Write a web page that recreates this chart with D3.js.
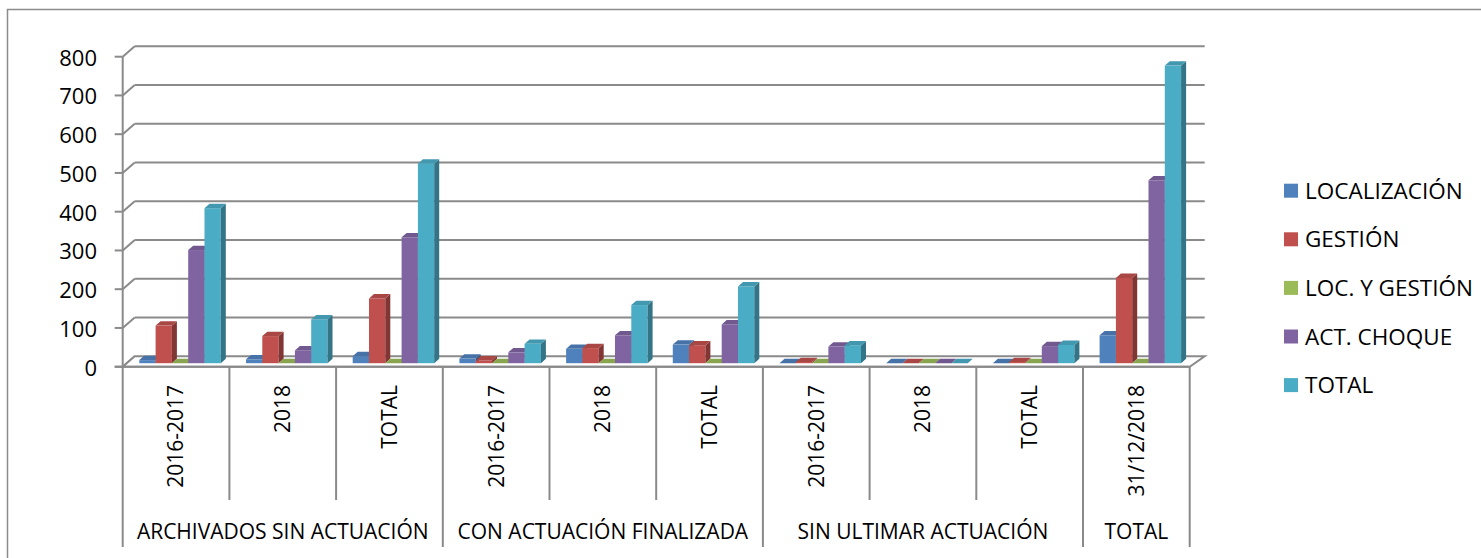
<!DOCTYPE html>
<html><head><meta charset="utf-8">
<script src="https://cdn.jsdelivr.net/npm/d3@7"></script>
<style>html,body{margin:0;padding:0;background:#fff;}svg{display:block;font-family:"Open Sans",sans-serif;}</style>
</head><body><svg id="c" width="1481" height="558"></svg>
<script>
const categories = ["2016-2017","2018","TOTAL","2016-2017","2018","TOTAL","2016-2017","2018","TOTAL","31/12/2018"];
const groupLabels = ["ARCHIVADOS SIN ACTUACIÓN","CON ACTUACIÓN FINALIZADA","SIN ULTIMAR ACTUACIÓN","TOTAL"];
const groupSizes = [3,3,3,1];
const seriesNames = ["LOCALIZACIÓN","GESTIÓN","LOC. Y GESTIÓN","ACT. CHOQUE","TOTAL"];
const localizacion = [8,10,18,12,37,48,0,0,0,72];
const gestion      = [97,70,167,7,39,46,3,0,3,220];
const locYGestion  = [0,0,0,0,0,0,0,0,0,0];
const actChoque    = [292,33,325,28,72,100,43,0,44,472];
const totalSerie   = [400,113,515,50,150,198,46,0,47,768];
const yTicks = [0,100,200,300,400,500,600,700,800];
const colors = ["#4F81BD","#C0504D","#9BBB59","#8064A2","#4BACC6"];

const series = [localizacion,gestion,locYGestion,actChoque,totalSerie];
const svg = d3.select("#c");
const grid = "#8a8a8a";

const x0 = 122.7, x1 = 1189.7;
const y = d3.scaleLinear().domain([0,800]).range([366.7,56.7]);
const x = d3.scaleBand().domain(d3.range(categories.length)).range([x0,x1]).padding(0);
const cw = x.bandwidth();
const inner = d3.scaleBand().domain(d3.range(series.length)).range([12.6, cw-12.6]).padding(0);
const DX = 12, DY = 10.5;
const bF = 1/3, bB = 0.75;

svg.append("rect").attr("x",7.5).attr("y",9.5).attr("width",1490).attr("height",600)
  .attr("fill","none").attr("stroke","#8c8c8c").attr("stroke-width",1.5);

svg.append("g").selectAll("line").data(yTicks.slice(1)).join("line")
  .attr("x1",x0+DX).attr("x2",x1+DX+3).attr("y1",d=>y(d)-DY).attr("y2",d=>y(d)-DY)
  .attr("stroke",grid).attr("stroke-width",2);
svg.append("g").selectAll("line").data(yTicks).join("line")
  .attr("x1",x0).attr("x2",x0+DX).attr("y1",d=>y(d)).attr("y2",d=>y(d)-DY)
  .attr("stroke",grid).attr("stroke-width",2);
svg.append("polygon")
  .attr("points",[[x0,y(0)],[x1,y(0)],[x1+DX+3,y(0)-DY],[x0+DX,y(0)-DY]].map(p=>p.join(",")).join(" "))
  .attr("fill","#fff").attr("stroke",grid).attr("stroke-width",2);
svg.append("line").attr("x1",x0).attr("x2",x0).attr("y1",y(800)).attr("y2",y(0))
  .attr("stroke",grid).attr("stroke-width",2);
svg.append("g").selectAll("line").data(yTicks).join("line")
  .attr("x1",x0-8).attr("x2",x0).attr("y1",d=>y(d)).attr("y2",d=>y(d))
  .attr("stroke",grid).attr("stroke-width",2);
svg.append("g").selectAll("text").data(yTicks).join("text")
  .attr("x",97).attr("y",d=>y(d)+1).attr("dy","0.36em").attr("text-anchor","end")
  .attr("font-size",22).attr("fill","#000").text(d=>d);

const barsG = svg.append("g");
const ofx = DX*bF, ofy = DY*bF, bdx = DX*(bB-bF), bdy = DY*(bB-bF);
categories.forEach((c,ci)=>{
  series.forEach((arr,si)=>{
    const v = arr[ci];
    const bx = x(ci)+inner(si)+ofx, bw = inner.bandwidth();
    const yb = y(0)-ofy, yt = y(v)-ofy;
    const col = d3.color(colors[si]);
    const g = barsG.append("g");
    if (v>0){
      g.append("rect").attr("x",bx).attr("y",yt).attr("width",bw).attr("height",yb-yt).attr("fill",col.formatHex());
      g.append("polygon").attr("points",[[bx+bw,yt],[bx+bw+bdx,yt-bdy],[bx+bw+bdx,yb-bdy],[bx+bw,yb]].map(p=>p.join(",")).join(" "))
        .attr("fill",col.darker(1.1).formatHex());
    }
    g.append("polygon").attr("points",[[bx,yt],[bx+bdx,yt-bdy],[bx+bw+bdx,yt-bdy],[bx+bw,yt]].map(p=>p.join(",")).join(" "))
      .attr("fill",col.darker(0.35).formatHex());
  });
});

svg.append("line").attr("x1",x0-8).attr("x2",x1).attr("y1",y(0)).attr("y2",y(0))
  .attr("stroke",grid).attr("stroke-width",2);
const groupBounds = [0]; groupSizes.forEach(s=>groupBounds.push(groupBounds[groupBounds.length-1]+s));
const bx = i => i<categories.length ? x(i) : x1;
svg.append("g").selectAll("line").data(d3.range(categories.length+1)).join("line")
  .attr("x1",bx).attr("x2",bx).attr("y1",y(0))
  .attr("y2",i=>groupBounds.includes(i)?547:500)
  .attr("stroke",grid).attr("stroke-width",2);
svg.append("g").selectAll("text").data(categories).join("text")
  .attr("transform",(d,i)=>`translate(${x(i)+cw/2},385) rotate(-90)`)
  .attr("dy","0.35em").attr("text-anchor","end").attr("font-size",21).attr("fill","#000").text(d=>d);
svg.append("g").selectAll("text").data(groupLabels).join("text")
  .attr("x",(d,i)=>(bx(groupBounds[i])+bx(groupBounds[i+1]))/2).attr("y",532).attr("dy","0.35em")
  .attr("text-anchor","middle").attr("font-size",21).attr("fill","#000").text(d=>d);

const lg = svg.append("g").selectAll("g").data(seriesNames).join("g")
  .attr("transform",(d,i)=>`translate(1284,${190.7+i*48.6})`);
lg.append("rect").attr("x",0).attr("y",-7).attr("width",14).attr("height",14).attr("fill",(d,i)=>colors[i]);
lg.append("text").attr("x",21).attr("dy","0.36em").attr("font-size",22.5).attr("fill","#000").text(d=>d);
</script></body></html>
